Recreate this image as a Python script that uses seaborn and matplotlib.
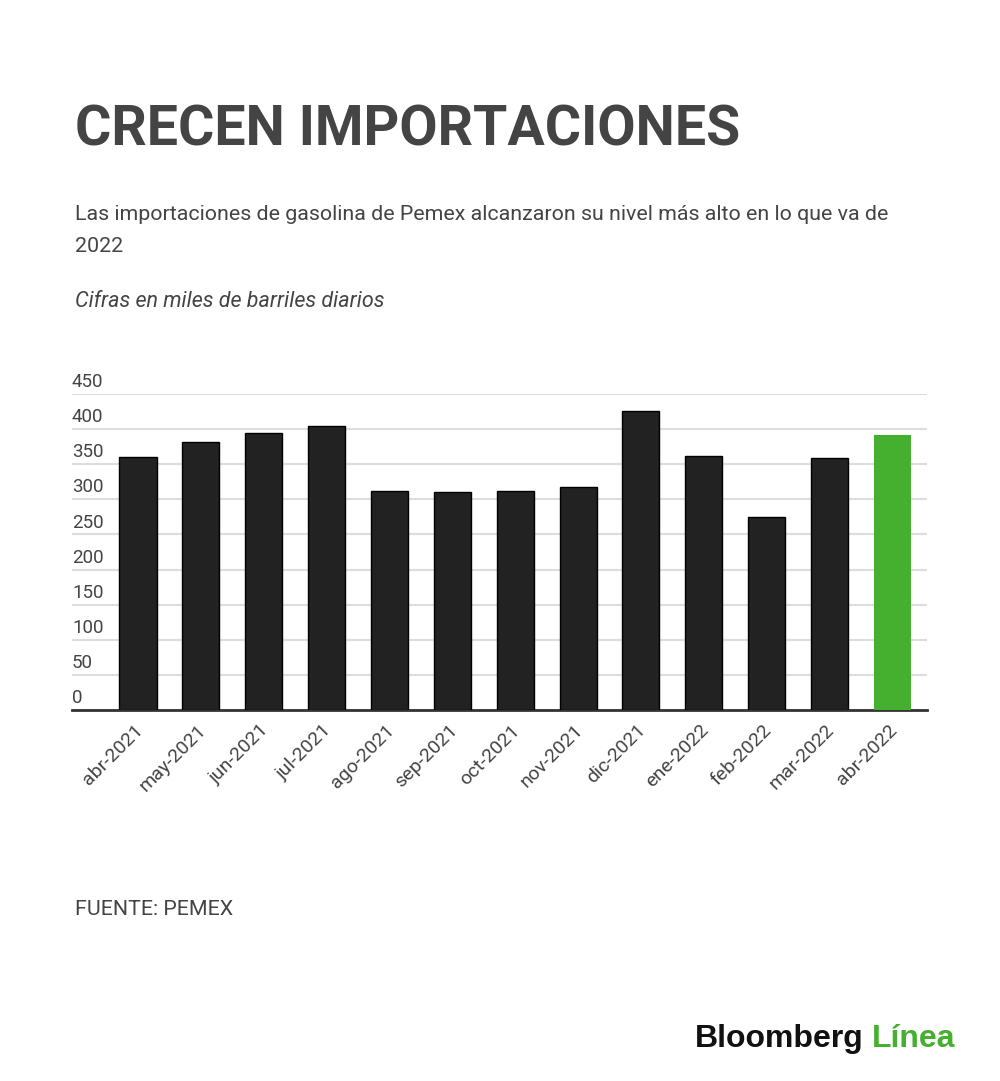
import seaborn as sns
import matplotlib.pyplot as plt
from matplotlib import transforms

# Data
months = ["abr-2021", "may-2021", "jun-2021", "jul-2021", "ago-2021", "sep-2021",
          "oct-2021", "nov-2021", "dic-2021", "ene-2022", "feb-2022", "mar-2022", "abr-2022"]
imports = [360, 381, 395, 405, 312, 310, 312, 318, 426, 362, 275, 359, 392]
y_ticks = [0, 50, 100, 150, 200, 250, 300, 350, 400, 450]

DARK = "#222222"
GREEN = "#45AF2F"
TEXT = "#444444"

sns.set_theme(style="white")
plt.rcParams["font.family"] = ["Roboto", "DejaVu Sans"]

fig = plt.figure(figsize=(10, 10.81), dpi=100)
ax = fig.add_axes([0.072, 1 - 710 / 1081, 0.855, (710 - 394) / 1081])

colors = [DARK] * (len(months) - 1) + [GREEN]
sns.barplot(x=months, y=imports, hue=months, palette=colors, legend=False,
            width=0.59, saturation=1, ax=ax, zorder=3)
for i, bar in enumerate(ax.patches):
    if i < len(months) - 1:
        bar.set_edgecolor("black")
        bar.set_linewidth(1)
    else:
        bar.set_linewidth(0)

ax.set_xlim(-1.05, len(months) - 1 + 0.55)
ax.set_ylim(0, 450)

# gridlines, labels sit above each line at the left
ax.set_yticks(y_ticks)
ax.yaxis.grid(True, color="#dddddd", linewidth=1.5, zorder=0)
ax.set_yticklabels([])
ax.tick_params(axis="y", length=0)
lift = transforms.ScaledTranslation(0, 5 / 72, fig.dpi_scale_trans)
for v in y_ticks:
    ax.text(0, v, str(v), transform=ax.get_yaxis_transform() + lift, ha="left",
            va="baseline", fontsize=13.5, color=TEXT, clip_on=False)

for s in ["top", "right", "left"]:
    ax.spines[s].set_visible(False)
ax.spines["bottom"].set_color("#333333")
ax.spines["bottom"].set_linewidth(2)

ax.tick_params(axis="x", length=0, pad=8)
ax.set_xticks(range(len(months)))
ax.set_xticklabels(months, rotation=45, ha="right", rotation_mode="anchor",
                   fontsize=14, color=TEXT)
offset = transforms.ScaledTranslation(-3 / 72, 0, fig.dpi_scale_trans)
for lbl in ax.get_xticklabels():
    lbl.set_transform(lbl.get_transform() + offset)
ax.set_xlabel("")
ax.set_ylabel("")

# titles
fig.text(0.075, 1 - 145 / 1081, "CRECEN IMPORTACIONES", fontsize=40, fontweight="bold",
         color=TEXT, va="baseline", ha="left")
fig.text(0.075, 1 - 220 / 1081,
         "Las importaciones de gasolina de Pemex alcanzaron su nivel más alto en lo que va de",
         fontsize=15.4, color=TEXT, va="baseline", ha="left")
fig.text(0.075, 1 - 252 / 1081, "2022", fontsize=15.4, color=TEXT, va="baseline", ha="left")
fig.text(0.075, 1 - 307 / 1081, "Cifras en miles de barriles diarios", fontsize=15.5,
         style="italic", color=TEXT, va="baseline", ha="left")
fig.text(0.075, 1 - 915 / 1081, "FUENTE: PEMEX", fontsize=15.4, color=TEXT,
         va="baseline", ha="left")

# logo
fig.text(0.695, 1 - 1047 / 1081, "Bloomberg", fontsize=23, fontweight="bold",
         color="#111111", va="baseline", ha="left", family="Liberation Sans")
fig.text(0.955, 1 - 1047 / 1081, "Línea", fontsize=23, fontweight="bold",
         color=GREEN, va="baseline", ha="right", family="Liberation Sans")

fig.savefig("out.png", dpi=100, facecolor="white")
